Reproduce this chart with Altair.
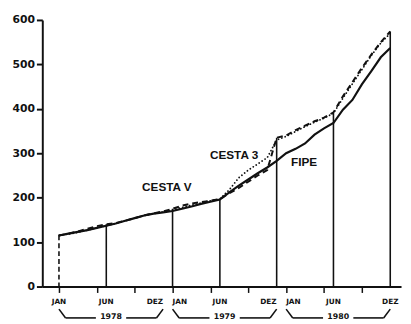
import altair as alt
import pandas as pd

# ---- data (index values, monthly, Jan 1978 .. Dec 1980) ----
months = list(range(36))
fipe = [115, 119, 123, 127, 132, 137, 142, 148, 154, 160, 164, 167,
        170, 175, 180, 186, 191, 196, 212, 227, 241, 255, 268, 283,
        300, 310, 322, 342, 356, 368, 398, 420, 455, 485, 516, 537]
cesta_v = [115, 119, 124, 130, 136, 140, 143, 148, 154, 160, 165, 169,
           175, 182, 187, 190, 193, 197, 210, 222, 236, 250, 262, 335,
           340, 352, 362, 372, 380, 392, 428, 460, 492, 522, 550, 574]
cesta_3 = [115, 118, 122, 127, 132, 137, 142, 148, 154, 160, 164, 168,
           172, 178, 183, 188, 193, 197, 218, 245, 262, 276, 290, 330,
           338, 349, 360, 370, 379, 390, 424, 456, 488, 520, 548, 570]
series_names = ["FIPE", "CESTA V", "CESTA 3"]

y_ticks = [0, 100, 200, 300, 400, 500, 600]
label_months = [0, 5, 11, 12, 17, 23, 24, 29, 35]
label_texts = ["JAN", "JUN", "DEZ", "JAN", "JUN", "DEZ", "JAN", "JUN", "DEZ"]
label_align = ["center", "center", "right", "left", "center", "right", "left", "center", "center"]
years = ["1978", "1979", "1980"]
drop_months = [0, 5, 12, 17, 23, 29, 35]
series_label_pos = [("CESTA V", 11.4, 223), ("CESTA 3", 18.5, 296), ("FIPE", 25.9, 280)]

# ---- tables ----
rows = []
for name, vals in zip(series_names, [fipe, cesta_v, cesta_3]):
    for m, v in zip(months, vals):
        rows.append({"mes": m, "valor": v, "serie": name})
df = pd.DataFrame(rows)

drops = pd.DataFrame({
    "mes": drop_months,
    "topo": [max(fipe[m], cesta_v[m], cesta_3[m]) for m in drop_months],
    "base": [0] * len(drop_months),
    "estilo": ["tracejada"] + ["cheia"] * (len(drop_months) - 1),
})

mlabels = pd.DataFrame({"mes": label_months, "texto": label_texts, "alinh": label_align})

yr = pd.DataFrame({"ano": years, "ini": [0, 12, 24]})
yr["fim"] = yr["ini"] + 11
yr["meio"] = yr["ini"] + 5.5
yr["ini_b"] = yr["ini"] + 0.7
yr["fim_b"] = yr["fim"] - 0.7
yr["gap_l"] = yr["meio"] - 1.6
yr["gap_r"] = yr["meio"] + 1.6

slabels = pd.DataFrame(series_label_pos, columns=["texto", "mes", "valor"])

W, H = 366, 272
xs = alt.Scale(domain=[-1.76, 36.14], nice=False, zero=False)
ys = alt.Scale(domain=[0, 600], nice=False)
FONT = "DejaVu Sans"
INK = "#111111"

x_axis = alt.Axis(values=months, labels=False, title=None, grid=False,
                  tickSize=6, tickWidth=1.5, tickColor=INK,
                  domainColor=INK, domainWidth=2)
y_axis = alt.Axis(values=y_ticks, title=None, grid=False, tickSize=6,
                  tickWidth=2, tickColor=INK, domainColor=INK, domainWidth=2,
                  labelFont=FONT, labelFontSize=11, labelFontWeight="bold",
                  labelColor=INK, labelPadding=2)

line_solid = alt.Chart(df).transform_filter(alt.datum.serie == "FIPE").mark_line(
    color=INK, strokeWidth=2.2).encode(
    x=alt.X("mes:Q", scale=xs, axis=x_axis),
    y=alt.Y("valor:Q", scale=ys, axis=y_axis),
)
line_dash = alt.Chart(df).transform_filter(alt.datum.serie == "CESTA V").mark_line(
    color=INK, strokeWidth=2, strokeDash=[6, 4]).encode(
    x=alt.X("mes:Q", scale=xs), y=alt.Y("valor:Q", scale=ys))
line_dot = alt.Chart(df).transform_filter(alt.datum.serie == "CESTA 3").mark_line(
    color=INK, strokeWidth=1.8, strokeDash=[0.1, 3.5], strokeCap="round").encode(
    x=alt.X("mes:Q", scale=xs), y=alt.Y("valor:Q", scale=ys))

drop_rules = alt.Chart(drops).mark_rule(color=INK, strokeWidth=1.6).encode(
    x=alt.X("mes:Q", scale=xs),
    y=alt.Y("topo:Q", scale=ys),
    y2="base:Q",
    strokeDash=alt.StrokeDash("estilo:N", legend=None,
                              scale=alt.Scale(domain=["cheia", "tracejada"],
                                              range=[[1, 0], [5, 3]])),
)

month_text_layers = []
for al in ["left", "center", "right"]:
    month_text_layers.append(
        alt.Chart(mlabels).transform_filter(alt.datum.alinh == al)
        .mark_text(align=al, baseline="middle", font=FONT, fontSize=7.5,
                   fontWeight="bold", color=INK)
        .encode(x=alt.X("mes:Q", scale=xs), y=alt.value(H + 16), text="texto:N")
    )

brace_h_left = alt.Chart(yr).mark_rule(color=INK, strokeWidth=1.6).encode(
    x=alt.X("ini_b:Q", scale=xs), x2="gap_l:Q", y=alt.value(H + 32))
brace_h_right = alt.Chart(yr).mark_rule(color=INK, strokeWidth=1.6).encode(
    x=alt.X("gap_r:Q", scale=xs), x2="fim_b:Q", y=alt.value(H + 32))
brace_hook_l = alt.Chart(yr).mark_rule(color=INK, strokeWidth=1.6).encode(
    x=alt.X("ini:Q", scale=xs), x2="ini_b:Q", y=alt.value(H + 23), y2=alt.value(H + 32))
brace_hook_r = alt.Chart(yr).mark_rule(color=INK, strokeWidth=1.6).encode(
    x=alt.X("fim_b:Q", scale=xs), x2="fim:Q", y=alt.value(H + 32), y2=alt.value(H + 23))
year_text = alt.Chart(yr).mark_text(baseline="middle", font=FONT, fontSize=8,
                                    fontWeight="bold", color=INK).encode(
    x=alt.X("meio:Q", scale=xs), y=alt.value(H + 31), text="ano:N")

series_text = alt.Chart(slabels).mark_text(font="Liberation Sans", fontSize=12,
                                           fontWeight="bold", color=INK).encode(
    x=alt.X("mes:Q", scale=xs), y=alt.Y("valor:Q", scale=ys), text="texto:N")

chart = alt.layer(
    drop_rules, line_solid, line_dash, line_dot, *month_text_layers,
    brace_h_left, brace_h_right, brace_hook_l, brace_hook_r, year_text, series_text,
).properties(
    width=W, height=H,
    autosize=alt.AutoSizeParams(type="none"),
    padding={"left": 35, "top": 9, "right": 2, "bottom": 35},
    background="white",
).configure_view(stroke=None)

chart.save("out.html", embed_options={"renderer": "svg", "actions": False})
